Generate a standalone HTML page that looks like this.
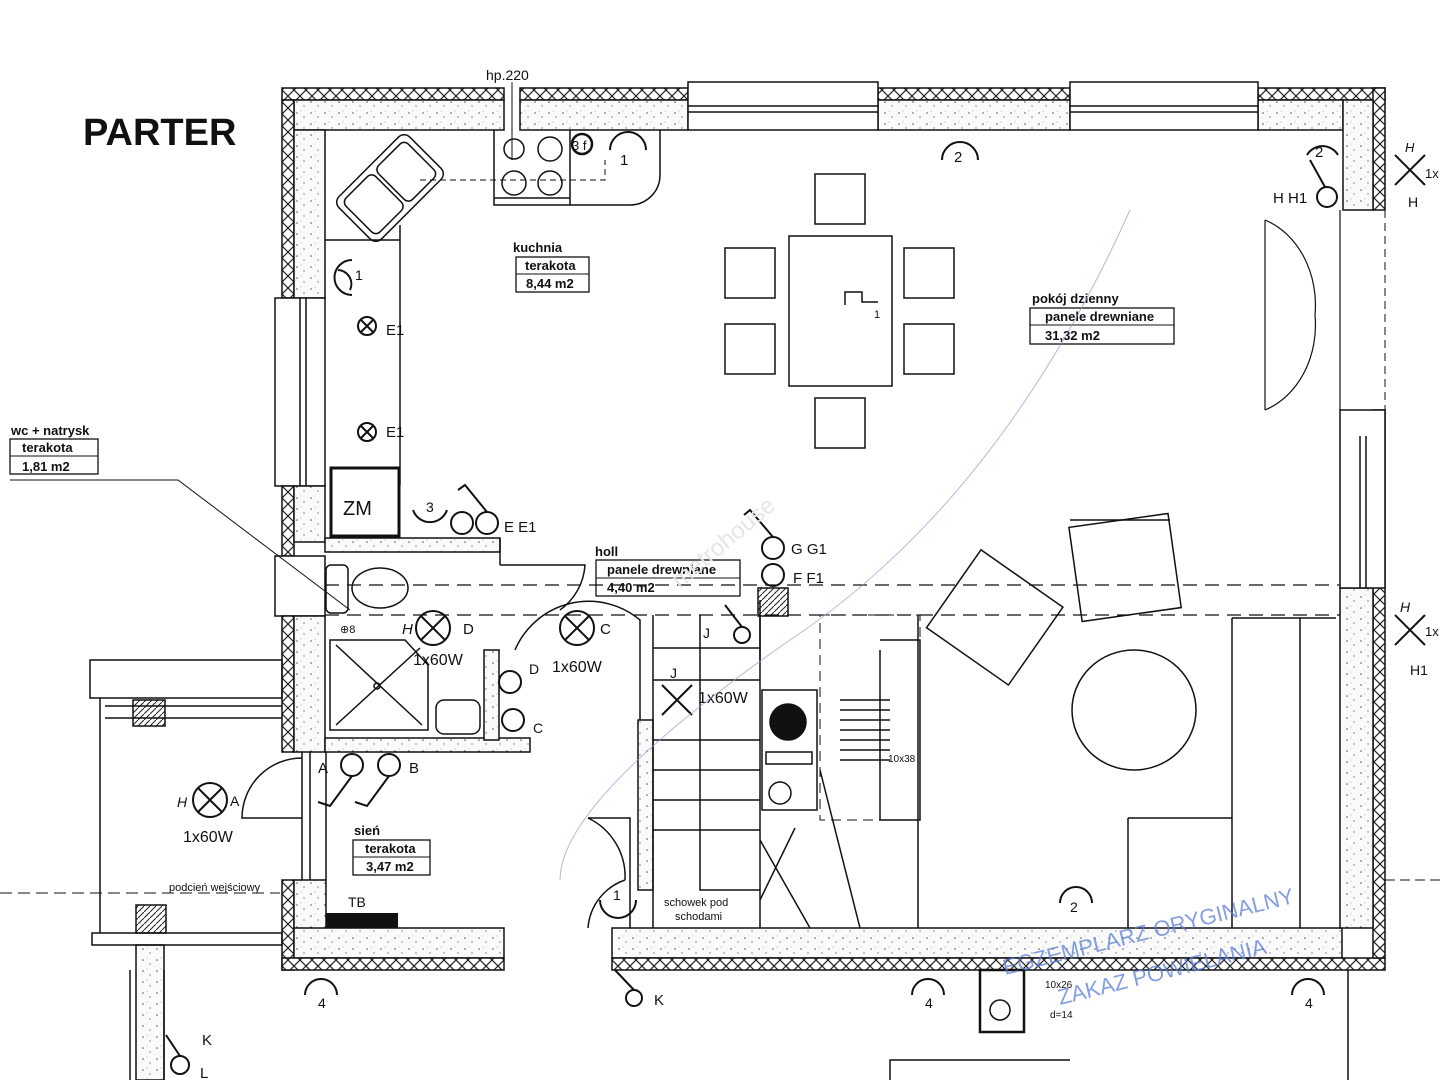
<!DOCTYPE html>
<html><head><meta charset="utf-8"><style>
html,body{margin:0;padding:0;background:#fff;}
svg{display:block;}
text{font-family:"Liberation Sans",Arial,sans-serif;fill:#111;}
</style></head><body>
<svg width="1440" height="1080" viewBox="0 0 1440 1080" xmlns="http://www.w3.org/2000/svg">
<defs>
<pattern id="dots" width="14" height="11" patternUnits="userSpaceOnUse">
<rect width="14" height="11" fill="#fafafa"/>
<circle cx="3" cy="3" r="0.8" fill="#555"/><circle cx="10" cy="7" r="0.7" fill="#777"/><circle cx="7" cy="1" r="0.5" fill="#999"/>
</pattern>
<pattern id="xh" width="12" height="12" patternUnits="userSpaceOnUse">
<rect width="12" height="12" fill="#fff"/>
<path d="M0 0L12 12M12 0L0 12" stroke="#222" stroke-width="1.2"/>
</pattern>
<pattern id="diag" width="6" height="6" patternUnits="userSpaceOnUse">
<rect width="6" height="6" fill="#fff"/><path d="M0 6L6 0" stroke="#222" stroke-width="1"/>
</pattern>
</defs>
<rect width="1440" height="1080" fill="#fff"/>
<text x="83" y="145" font-size="38" font-weight="bold">PARTER</text>

<g stroke="#111" stroke-width="1.5">
<rect x="282" y="88" width="222" height="12" fill="url(#xh)"/>
<rect x="520" y="88" width="168" height="12" fill="url(#xh)"/>
<rect x="878" y="88" width="192" height="12" fill="url(#xh)"/>
<rect x="1258" y="88" width="127" height="12" fill="url(#xh)"/>
<rect x="294" y="100" width="210" height="30" fill="url(#dots)"/>
<rect x="520" y="100" width="168" height="30" fill="url(#dots)"/>
<rect x="878" y="100" width="192" height="30" fill="url(#dots)"/>
<rect x="1258" y="100" width="85" height="30" fill="url(#dots)"/>
<rect x="688" y="82" width="190" height="48" fill="#fff"/>
<line x1="688" y1="106" x2="878" y2="106"/><line x1="688" y1="112" x2="878" y2="112"/>
<rect x="1070" y="82" width="188" height="48" fill="#fff"/>
<line x1="1070" y1="106" x2="1258" y2="106"/><line x1="1070" y1="112" x2="1258" y2="112"/>
<rect x="1373" y="88" width="12" height="122" fill="url(#xh)"/>
<rect x="1343" y="100" width="30" height="110" fill="url(#dots)"/>
<rect x="282" y="100" width="12" height="198" fill="url(#xh)"/>
<rect x="294" y="130" width="31" height="168" fill="url(#dots)"/>
<rect x="275" y="298" width="50" height="188" fill="#fff"/>
<line x1="300" y1="298" x2="300" y2="486"/><line x1="306" y1="298" x2="306" y2="486"/>
<rect x="282" y="486" width="12" height="70" fill="url(#xh)"/>
<rect x="294" y="486" width="31" height="56" fill="url(#dots)"/>
<rect x="275" y="556" width="50" height="60" fill="#fff"/>
<rect x="282" y="616" width="12" height="136" fill="url(#xh)"/>
<rect x="294" y="616" width="31" height="136" fill="url(#dots)"/>
<rect x="282" y="880" width="12" height="90" fill="url(#xh)"/>
<rect x="294" y="880" width="32" height="50" fill="url(#dots)"/>
<rect x="294" y="928" width="210" height="30" fill="url(#dots)"/>
<rect x="282" y="958" width="222" height="12" fill="url(#xh)"/>
<rect x="612" y="928" width="730" height="30" fill="url(#dots)"/>
<rect x="612" y="958" width="773" height="12" fill="url(#xh)"/>
<rect x="1373" y="410" width="12" height="548" fill="url(#xh)"/>
<rect x="1340" y="588" width="33" height="340" fill="url(#dots)"/>
<rect x="1340" y="410" width="45" height="178" fill="#fff"/>
<line x1="1360" y1="436" x2="1360" y2="588"/><line x1="1366" y1="436" x2="1366" y2="588"/>
<rect x="325" y="538" width="175" height="14" fill="url(#dots)"/>
<rect x="325" y="738" width="205" height="14" fill="url(#dots)"/>
<rect x="484" y="650" width="15" height="90" fill="url(#dots)"/>
<rect x="638" y="720" width="15" height="170" fill="url(#dots)"/>
<rect x="758" y="588" width="30" height="28" fill="url(#diag)"/>
<rect x="133" y="700" width="32" height="26" fill="url(#diag)"/>
<rect x="136" y="905" width="30" height="28" fill="url(#diag)"/>
<rect x="136" y="945" width="28" height="135" fill="url(#dots)"/>
</g>
<g fill="none" stroke="#111" stroke-width="1.5">
<rect x="90" y="660" width="192" height="38"/>
<line x1="100" y1="698" x2="100" y2="933"/>
<line x1="105" y1="706" x2="282" y2="706"/><line x1="105" y1="718" x2="282" y2="718"/>
<rect x="92" y="933" width="190" height="12"/>
<line x1="0" y1="893" x2="280" y2="893" stroke-dasharray="12 6" stroke-width="1"/>
<line x1="302" y1="752" x2="302" y2="880"/><line x1="310" y1="752" x2="310" y2="880"/><line x1="326" y1="752" x2="326" y2="880"/>
<path d="M302 758 A60 60 0 0 0 242 818 L302 818"/>
<path d="M130 970 V1080 M164 970 V1080"/>
<path d="M494 130 V205 H630 A30 30 0 0 0 660 175 V130"/>
<line x1="570" y1="130" x2="570" y2="205"/><line x1="494" y1="198" x2="570" y2="198"/>
<circle cx="514" cy="149" r="10"/><circle cx="550" cy="149" r="12"/><circle cx="514" cy="183" r="12"/><circle cx="550" cy="183" r="12"/>
<circle cx="582" cy="144" r="10" stroke-width="2.5"/>
<g transform="rotate(-45 390 188)">
<rect x="340" y="158" width="100" height="60" rx="8"/>
<rect x="346" y="164" width="42" height="48" rx="6"/><rect x="392" y="164" width="42" height="48" rx="6"/>
</g>
<path d="M400 225 V485 M325 240 H400"/>
<path d="M420 180 H605 V160" stroke-dasharray="6 4" stroke-width="1"/>
<rect x="331" y="468" width="68" height="68" stroke-width="3"/>
<ellipse cx="380" cy="588" rx="28" ry="20"/><rect x="326" y="565" width="22" height="48" rx="5"/>
<path d="M330 640 H405 L428 665 V730 H330 Z"/><path d="M336 645 L422 725 M420 648 L336 725"/>
<circle cx="377" cy="686" r="3"/>
<rect x="436" y="700" width="44" height="34" rx="8"/>
<path d="M500 565 H585 A60 60 0 0 1 560 610"/>
<path d="M325 585 H1340 M325 615 H1340" stroke-dasharray="14 8" stroke-width="1.2"/>
<path d="M500 538 V565"/>
<path d="M515 650 A80 80 0 0 1 640 620 V720"/>
<path d="M653 615 V928 M760 615 V928 M653 648 H760 M653 680 H760 M653 740 H760 M653 770 H760 M653 800 H760 M653 830 H760 M700 615 V890 H760" />
<path d="M760 840 L810 928 M820 770 L860 928 M760 900 L795 828"/>
<rect x="762" y="690" width="55" height="120"/>
<circle cx="788" cy="722" r="18" fill="#111"/><circle cx="780" cy="793" r="11"/>
<rect x="766" y="752" width="46" height="12"/>
<rect x="820" y="615" width="100" height="205" stroke-dasharray="10 6" stroke-width="1"/>
<path d="M840 700 H890 M840 710 H890 M840 720 H890 M840 730 H890 M840 740 H890 M840 750 H890 M840 760 H890"/>
<path d="M880 640 H920 V820 H880 V650"/>
<path d="M918 615 V928"/>
<line x1="760" y1="600" x2="760" y2="660"/>
<path d="M588 818 H630 V928 M588 818 A65 65 0 0 1 625 880 M588 928 A55 55 0 0 1 625 880"/>
<rect x="789" y="236" width="103" height="150"/>
<rect x="815" y="174" width="50" height="50"/><rect x="815" y="398" width="50" height="50"/>
<rect x="725" y="248" width="50" height="50"/><rect x="725" y="324" width="50" height="50"/>
<rect x="904" y="248" width="50" height="50"/><rect x="904" y="324" width="50" height="50"/>
<path d="M845 305 V292 H862 V302 H878"/>
<rect x="1075" y="520" width="100" height="95" transform="rotate(-8 1125 567)"/>
<rect x="945" y="570" width="100" height="95" transform="rotate(35 995 617)"/>
<path d="M1070 520 H1170"/>
<ellipse cx="1134" cy="710" rx="62" ry="60"/>
<path d="M1232 618 V928 M1232 618 H1336 M1128 818 H1232 V928 M1128 818 V928 M1300 618 V928"/>
<path d="M1340 210 V410 M1265 220 A75 90 0 0 1 1315 315 M1265 410 A75 90 0 0 0 1315 315 M1265 220 V410" stroke-width="1.2"/>
<line x1="1385" y1="210" x2="1385" y2="410" stroke-dasharray="8 5" stroke-width="1"/>
<line x1="1385" y1="880" x2="1440" y2="880" stroke-dasharray="10 5" stroke-width="1"/>
<rect x="980" y="970" width="44" height="62" stroke-width="2.5"/>
<circle cx="1000" cy="1010" r="10"/>
<path d="M890 1080 V1060 H1070"/>
<path d="M1348 970 V1080"/>
</g>
<g fill="none" stroke="#111" stroke-width="2">
<circle cx="367" cy="326" r="9"/><path d="M361 320l12 12M373 320l-12 12"/>
<circle cx="367" cy="432" r="9"/><path d="M361 426l12 12M373 426l-12 12"/>
<circle cx="433" cy="628" r="17"/><path d="M421 616l24 24M445 616l-24 24"/>
<circle cx="577" cy="628" r="17"/><path d="M565 616l24 24M589 616l-24 24"/>
<circle cx="210" cy="800" r="17"/><path d="M198 788l24 24M222 788l-24 24"/>
<path d="M662 685l30 30M692 685l-30 30"/>
<path d="M1395 155l30 30M1425 155l-30 30 M1395 615l30 30M1425 615l-30 30"/>
<circle cx="462" cy="523" r="11"/><circle cx="487" cy="523" r="11"/>
<circle cx="773" cy="548" r="11"/><circle cx="773" cy="575" r="11"/>
<circle cx="352" cy="765" r="11"/><circle cx="389" cy="765" r="11"/>
<circle cx="510" cy="682" r="11"/><circle cx="513" cy="720" r="11"/>
<circle cx="742" cy="635" r="8"/><circle cx="1327" cy="197" r="10"/>
<circle cx="634" cy="998" r="8"/><circle cx="180" cy="1065" r="9"/>
<path d="M352 776 L330 806 L318 802 M389 776 L367 806 L355 802 M487 512 L465 485 L458 490 M773 537 L750 510 L744 515 M742 627 L725 605 M1325 187 L1310 160 M634 990 L615 970 M180 1056 L166 1035"/>
<path d="M338 270 A14 14 0 0 1 350 290 M352 260 A14 14 0 0 0 352 295"/>
<path d="M610 150 A18 18 0 0 1 646 150" /><path d="M942 160 A18 18 0 0 1 978 160"/>
<path d="M1307 155 A18 18 0 0 1 1338 155"/>
<path d="M413 510 A18 18 0 0 0 447 510"/>
<path d="M600 900 A18 18 0 0 0 636 900"/>
<path d="M1060 903 A16 16 0 0 1 1092 903"/>
<path d="M305 995 A16 16 0 0 1 337 995 M912 995 A16 16 0 0 1 944 995 M1292 995 A16 16 0 0 1 1324 995"/>
</g>
<rect x="326" y="913" width="72" height="15" fill="#111"/>
<g font-size="14">
<text x="486" y="80" font-size="14">hp.220</text>
<line x1="512" y1="82" x2="512" y2="160" stroke="#111"/>
<text x="954" y="162" font-size="15">2</text><text x="1315" y="157" font-size="15">2</text>
<text x="620" y="165" font-size="15">1</text><text x="355" y="280" font-size="14">1</text>
<text x="572" y="150" font-size="13">3 f</text>
<text x="1273" y="203" font-size="15">H H1</text><text x="1408" y="207" font-size="14">H</text>
<text x="1425" y="178" font-size="13">1x</text><text x="1405" y="152" font-size="13" font-style="italic">H</text>
<text x="386" y="335" font-size="15">E1</text><text x="386" y="437" font-size="15">E1</text>
<text x="343" y="515" font-size="20">ZM</text><text x="426" y="512" font-size="14">3</text>
<text x="504" y="532" font-size="15">E E1</text>
<text x="791" y="554" font-size="15">G G1</text><text x="793" y="583" font-size="15">F F1</text>
<text x="463" y="634" font-size="15">D</text><text x="600" y="634" font-size="15">C</text>
<text x="402" y="634" font-size="15" font-style="italic">H</text>
<text x="413" y="665" font-size="16">1x60W</text><text x="552" y="672" font-size="16">1x60W</text>
<text x="529" y="674" font-size="14">D</text><text x="533" y="733" font-size="14">C</text>
<text x="703" y="638" font-size="14">J</text><text x="670" y="678" font-size="14">J</text>
<text x="698" y="703" font-size="16">1x60W</text>
<text x="318" y="773" font-size="15">A</text><text x="409" y="773" font-size="15">B</text>
<text x="177" y="807" font-size="14" font-style="italic">H</text><text x="230" y="806" font-size="14">A</text>
<text x="183" y="842" font-size="16">1x60W</text>
<text x="169" y="891" font-size="11">podcień wejściowy</text>
<text x="348" y="907" font-size="14">TB</text>
<text x="613" y="900" font-size="14">1</text><text x="1070" y="912" font-size="14">2</text>
<text x="664" y="906" font-size="11">schowek pod</text><text x="675" y="920" font-size="11">schodami</text>
<text x="318" y="1008" font-size="14">4</text><text x="925" y="1008" font-size="14">4</text><text x="1305" y="1008" font-size="14">4</text>
<text x="654" y="1005" font-size="15">K</text><text x="202" y="1045" font-size="15">K</text><text x="200" y="1078" font-size="15">L</text>
<text x="1400" y="612" font-size="14" font-style="italic">H</text><text x="1425" y="636" font-size="13">1x</text>
<text x="1410" y="675" font-size="14">H1</text>
<text x="874" y="318" font-size="11">1</text><text x="340" y="633" font-size="11">⊕8</text>
<text x="888" y="762" font-size="10">10x38</text>
<text x="1045" y="988" font-size="10">10x26</text><text x="1050" y="1018" font-size="10">d=14</text>
</g>
<g font-size="13" font-weight="bold">
<text x="513" y="252">kuchnia</text>
<rect x="516" y="257" width="73" height="35" fill="none" stroke="#111" stroke-width="1.3"/><line x1="516" y1="274" x2="589" y2="274" stroke="#111"/>
<text x="525" y="270">terakota</text><text x="526" y="288">8,44 m2</text>
<text x="1032" y="303">pokój dzienny</text>
<rect x="1030" y="308" width="144" height="36" fill="none" stroke="#111" stroke-width="1.3"/><line x1="1030" y1="325" x2="1174" y2="325" stroke="#111"/>
<text x="1045" y="321">panele drewniane</text><text x="1045" y="340">31,32 m2</text>
<text x="11" y="435">wc + natrysk</text>
<rect x="10" y="439" width="88" height="35" fill="none" stroke="#111" stroke-width="1.3"/><line x1="10" y1="456" x2="98" y2="456" stroke="#111"/>
<text x="22" y="452">terakota</text><text x="22" y="471">1,81 m2</text>
<path d="M10 480 H178 L350 610" fill="none" stroke="#111" stroke-width="1"/>
<text x="595" y="556">holl</text>
<rect x="596" y="560" width="144" height="36" fill="none" stroke="#111" stroke-width="1.3"/><line x1="596" y1="578" x2="740" y2="578" stroke="#111"/>
<text x="607" y="574">panele drewniane</text><text x="607" y="592">4,40 m2</text>
<text x="354" y="835">sień</text>
<rect x="353" y="840" width="77" height="35" fill="none" stroke="#111" stroke-width="1.3"/><line x1="353" y1="857" x2="430" y2="857" stroke="#111"/>
<text x="365" y="853">terakota</text><text x="366" y="871">3,47 m2</text>
</g>
<g fill="none" stroke="#8aa0c8" stroke-width="1" opacity="0.7">
<path d="M1130 210 Q1000 500 790 640 Q560 800 560 880"/>
</g>
<text x="640" y="560" font-size="24" transform="rotate(-40 700 520)" style="fill:#e6e6e6">metrohouse</text>
<g font-size="22" opacity="0.75">
<text x="1005" y="975" transform="rotate(-14 1005 975)" style="fill:#5a7fd8">EGZEMPLARZ ORYGINALNY</text>
<text x="1060" y="1005" transform="rotate(-14 1060 1005)" style="fill:#5a7fd8">ZAKAZ POWIELANIA</text>
</g>
</svg>
</body></html>
